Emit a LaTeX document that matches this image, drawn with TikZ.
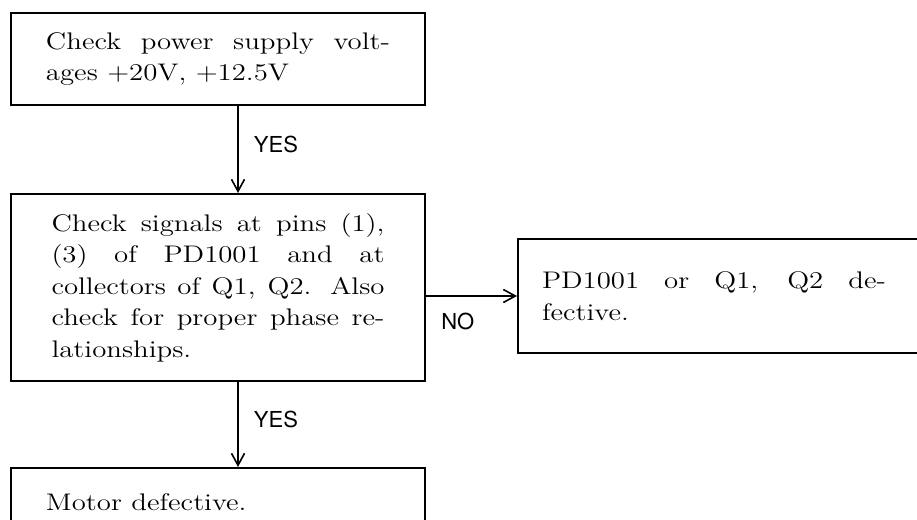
\documentclass[tikz,border=0pt]{standalone}
\usepackage{fontspec}
\usepackage{tikz}
\usetikzlibrary{arrows.meta,positioning}

\newfontfamily\stepfamily{Latin Modern Roman}[FakeStretch=1.2]
\newfontfamily\answerfamily{TeX Gyre Heros}
\newcommand{\stepfont}{\stepfamily\fontsize{12}{15.75}\selectfont}
\newcommand{\answerfont}{\answerfamily\fontsize{11}{13}\selectfont}

\begin{document}
\begin{tikzpicture}[
    x=0.5pt, y=-0.5pt,
    stepbox/.style={rectangle, draw, line width=1pt, align=justify, text width=172pt, minimum width=207pt, font=\stepfont},
    resultbox/.style={rectangle, draw, line width=1pt, inner xsep=12pt, font=\stepfont},
    arrow/.style={-{Straight Barb[length=6pt, width=6.5pt]}, line width=0.8pt},
    answer/.style={font=\answerfont}
]
    \useasboundingbox (0,0) rectangle (917,520);

    \node [stepbox, minimum height=46pt, anchor=north west] (supply) at (10,12) {Check power supply volt-\linebreak ages +20V, +12.5V};
    \node [stepbox, minimum height=93.5pt, text width=166.5pt, below=43.5pt of supply] (signals) {Check signals at pins (1),\linebreak (3) of PD1001 and at\linebreak collectors of Q1, Q2. Also\linebreak check for proper phase re-\linebreak lationships.};
    \node [resultbox, minimum height=57pt, right=45.5pt of signals, yshift=-4.25pt] (icfault) {\parbox{172pt}{PD1001 or Q1, Q2 de-\linebreak fective.}\hspace*{20pt}};
    \node [stepbox, minimum height=34pt, below=42.5pt of signals] (motor) {Motor defective.};

    \draw [arrow] ([xshift=10pt]supply.south) -- node [answer, xshift=19pt, yshift=2.5pt] {YES} ([xshift=10pt]supply.south |- signals.north);
    \draw [arrow] ([xshift=10pt]signals.south) -- node [answer, xshift=19pt, yshift=2.5pt] {YES} ([xshift=10pt]signals.south |- motor.north);
    \draw [arrow] (icfault.west -| signals.east) -- node [answer, pos=0.35, yshift=-12.5pt] {NO} (icfault.west);
\end{tikzpicture}
\end{document}
